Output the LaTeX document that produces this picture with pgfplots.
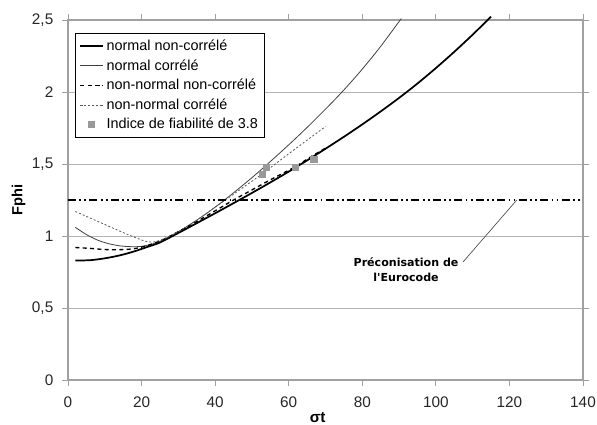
\documentclass[border=0pt]{standalone}
\usepackage{fontspec}
\setmainfont{Liberation Sans}
\newfontfamily\notefont{DejaVu Sans}
\usepackage{pgfplots}
\pgfplotsset{compat=1.18}

\definecolor{gridgrey}{HTML}{B4B4B4}
\definecolor{axisgrey}{HTML}{A0A0A0}
\definecolor{markgrey}{HTML}{999999}

\begin{document}
\begin{tikzpicture}
\begin{axis}[
  at={(0,0)}, anchor=south west,
  scale only axis,
  width=386.25pt, height=270pt,
  xmin=0, xmax=140, ymin=0, ymax=2.5,
  xtick={0,20,...,140},
  ytick={0,0.5,1,1.5,2,2.5},
  /pgf/number format/use comma,
  /pgf/number format/assume math mode=true,
  ticklabel style={font=\fontsize{11.5}{13}\selectfont, text=black!85},
  xticklabel style={yshift=-4.5pt},
  yticklabel style={xshift=-3pt},
  tick align=outside,
  major tick length=4.5pt,
  tick style={axisgrey, line width=0.6pt},
  axis line style={axisgrey, line width=0.8pt},
  ymajorgrids,
  grid style={gridgrey, line width=0.6pt},
  clip=false,
  legend cell align=left,
  legend style={at={(rel axis cs:0.0136,0.964)}, anchor=north west,
    draw=black, line width=0.6pt, fill=white,
    font=\fontsize{10.8}{12}\selectfont, row sep=1.2pt,
    inner xsep=3pt, inner ysep=3pt},
]
\addplot[black, line width=1.3pt, smooth] coordinates {
  (2,0.83) (6,0.832) (10,0.845) (14,0.865) (18,0.893) (22,0.928) (25,0.955)
  (30,1.021) (35,1.089) (40,1.158) (45,1.228) (50,1.299) (55,1.372)
  (60,1.447) (65,1.525) (70,1.606) (75,1.689) (80,1.775) (85,1.865)
  (90,1.959) (95,2.059) (100,2.166) (105,2.279) (110,2.398) (115,2.523)};
\addlegendentry{normal non-corrélé}
\addplot[black!75, line width=0.6pt, smooth] coordinates {
  (2,1.06) (5,1.01) (8,0.972) (11,0.947) (14,0.932) (17,0.926) (20,0.928)
  (23,0.945) (26,0.975) (30,1.03) (35,1.11) (40,1.2) (45,1.3) (50,1.405)
  (55,1.517) (60,1.633) (65,1.754) (70,1.881) (75,2.014) (80,2.159)
  (85,2.317) (90.6,2.51)};
\addlegendentry{normal corrélé}
\addplot[black, line width=1pt, dash pattern=on 3pt off 2.5pt, smooth] coordinates {
  (2,0.92) (6,0.914) (10,0.906) (14,0.905) (18,0.912) (22,0.937) (26,0.977)
  (30,1.03) (35,1.1) (40,1.175) (45,1.25) (50,1.32) (55,1.39) (61.7,1.48)
  (66,1.55) (70,1.61)};
\addlegendentry{non-normal non-corrélé}
\addplot[black!65, line width=0.6pt, dash pattern=on 1.5pt off 1.5pt, smooth] coordinates {
  (2,1.17) (6,1.125) (10,1.08) (14,1.035) (18,0.992) (22,0.958) (25,0.97)
  (30,1.03) (35,1.11) (40,1.2) (45,1.29) (52.7,1.43) (61,1.59) (70,1.76)};
\addlegendentry{non-normal corrélé}
\addplot[only marks, mark=square*, mark size=2.3pt, color=markgrey] coordinates {
  (52.7,1.43) (53.9,1.475) (61.7,1.48) (66.8,1.535)};
\addlegendentry{Indice de fiabilité de 3.8}
% Eurocode recommendation
\addplot[forget plot, black, line width=1.3pt,
  dash pattern=on 6pt off 2.5pt on 1.3pt off 2.5pt on 1.3pt off 2.5pt]
  coordinates {(0,1.25) (140,1.25)};
\addplot[forget plot, black!70, line width=0.5pt] coordinates {(107.4,0.82) (122,1.25)};
\node[font=\notefont\bfseries\fontsize{8.3}{11}\selectfont, align=center]
  at (axis cs:91.9,0.767) {Préconisation de\\l'Eurocode};
\node[rotate=90, font=\bfseries\fontsize{11}{13}\selectfont]
  at (axis cs:-13.4,1.25) {Fphi};
\node[anchor=base, font=\bfseries\fontsize{11.5}{13}\selectfont]
  at (rel axis cs:0.485,0) [yshift=-32pt] {σt};
\end{axis}
\pgfresetboundingbox
\useasboundingbox (-51pt,-33.75pt) rectangle (396.75pt,285pt);
\end{tikzpicture}
\end{document}
